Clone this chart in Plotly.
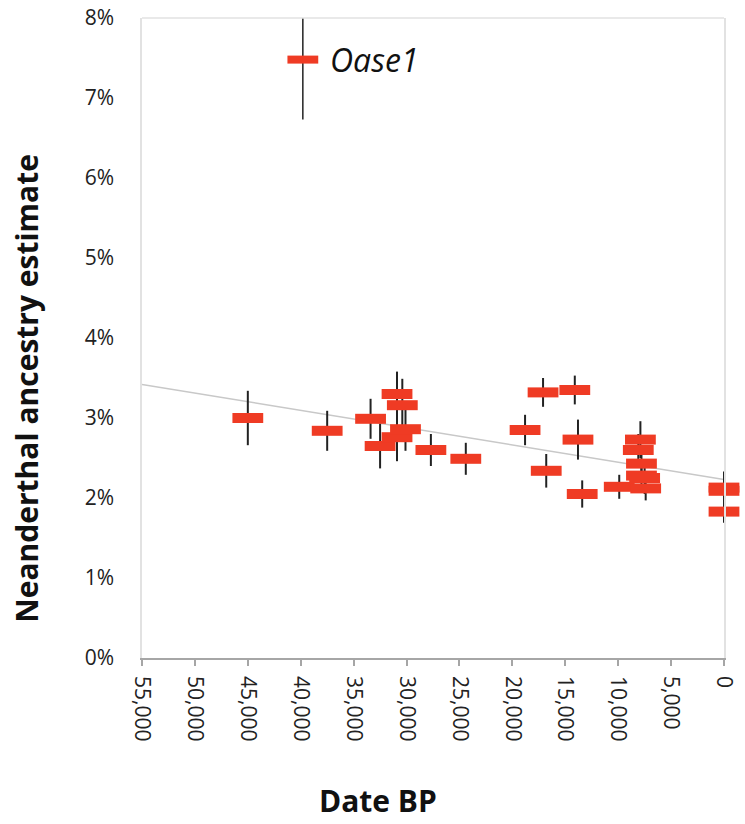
import plotly.graph_objects as go

# Sample dates (years BP), Neanderthal ancestry (%), and error half-widths (%)
date_bp = [45000, 37500, 33400, 32500, 30900, 30900, 30400, 30100, 27700, 24400,
           18800, 17100, 16800, 14100, 13800, 13400, 9900, 7900, 8100, 7800,
           7800, 7500, 7400, 0, 0, 0]
ancestry = [3.00, 2.84, 2.99, 2.65, 3.30, 2.76, 3.16, 2.86, 2.60, 2.49,
            2.85, 3.32, 2.34, 3.35, 2.73, 2.05, 2.14, 2.73, 2.60, 2.43,
            2.28, 2.25, 2.12, 2.13, 2.09, 1.83]
err = [0.34, 0.25, 0.25, 0.28, 0.28, 0.30, 0.33, 0.27, 0.20, 0.20,
       0.19, 0.18, 0.21, 0.18, 0.25, 0.17, 0.15, 0.23, 0.20, 0.20,
       0.20, 0.20, 0.15, 0.20, 0.20, 0.14]

oase_date = [39800]
oase_ancestry = [7.48]
oase_err = [0.75]
oase_label = "Oase1"

trend_x = [55000, 0]
trend_y = [3.42, 2.23]

x_ticks = list(range(55000, -1, -5000))
x_ticktext = [f"{v:,}" for v in x_ticks]
y_ticks = list(range(0, 9))
y_ticktext = [f"{v}%" for v in y_ticks]

RED = "#ef3b24"
FONT = "Open Sans"

fig = go.Figure()

fig.add_trace(go.Scatter(
    x=trend_x, y=trend_y, mode="lines",
    line=dict(color="#c8c8c8", width=1.5),
    hoverinfo="skip", showlegend=False,
))

fig.add_trace(go.Scatter(
    x=date_bp, y=ancestry, mode="markers",
    marker=dict(symbol="line-ew", size=22, line=dict(color=RED, width=10)),
    error_y=dict(type="data", array=err, visible=True, color="#222222",
                 thickness=2, width=0),
    cliponaxis=False, showlegend=False,
))

fig.add_trace(go.Scatter(
    x=oase_date, y=oase_ancestry, mode="markers",
    marker=dict(symbol="line-ew", size=22, line=dict(color=RED, width=8)),
    error_y=dict(type="data", array=oase_err, visible=True, color="#222222",
                 thickness=1.5, width=0),
    cliponaxis=True, showlegend=False,
))

fig.add_annotation(
    x=oase_date[0], y=oase_ancestry[0], text=f"<i>{oase_label}</i>",
    showarrow=False, xanchor="left", yanchor="middle", xshift=25,
    font=dict(family=FONT, size=32, color="#111111"),
)

fig.add_annotation(
    x=0.4055, y=-0.222, xref="paper", yref="paper", text="<b>Date BP</b>",
    showarrow=False, xanchor="center", yanchor="middle",
    font=dict(family=FONT, size=30, color="#111111"),
)
fig.add_annotation(
    x=-0.198, y=0.422, xref="paper", yref="paper",
    text="<b>Neanderthal ancestry estimate</b>", textangle=-90,
    showarrow=False, xanchor="center", yanchor="middle",
    font=dict(family=FONT, size=30, color="#111111"),
)

# top border of plot area
fig.add_shape(type="line", xref="paper", yref="paper", x0=0, x1=1, y0=1, y1=1,
              line=dict(color="#e2e2e2", width=1.5))

fig.update_xaxes(
    range=[55000, 0], tickmode="array", tickvals=x_ticks, ticktext=x_ticktext,
    tickangle=90, ticks="outside", ticklen=6, tickcolor="#a6a6a6", tickwidth=1.5,
    showline=True, linecolor="#a6a6a6", linewidth=1.5, showgrid=False,
    zeroline=False, ticklabelstandoff=6, automargin=False,
    tickfont=dict(family=FONT, size=21, color="#222222"),
)
fig.update_yaxes(
    range=[0, 8], tickmode="array", tickvals=y_ticks, ticktext=y_ticktext,
    showline=True, mirror=True, linecolor="#e2e2e2", linewidth=1.5,
    showgrid=False, zeroline=False, ticks="", ticklabelstandoff=22,
    automargin=False,
    tickfont=dict(family=FONT, size=21, color="#222222"),
)

fig.update_layout(
    width=745, height=824,
    margin=dict(l=142, r=21, t=18, b=166, autoexpand=False),
    plot_bgcolor="white", paper_bgcolor="white",
    showlegend=False,
)

fig.write_html("out.html", config={"displayModeBar": False},
               post_script="document.body.style.margin='0';")
